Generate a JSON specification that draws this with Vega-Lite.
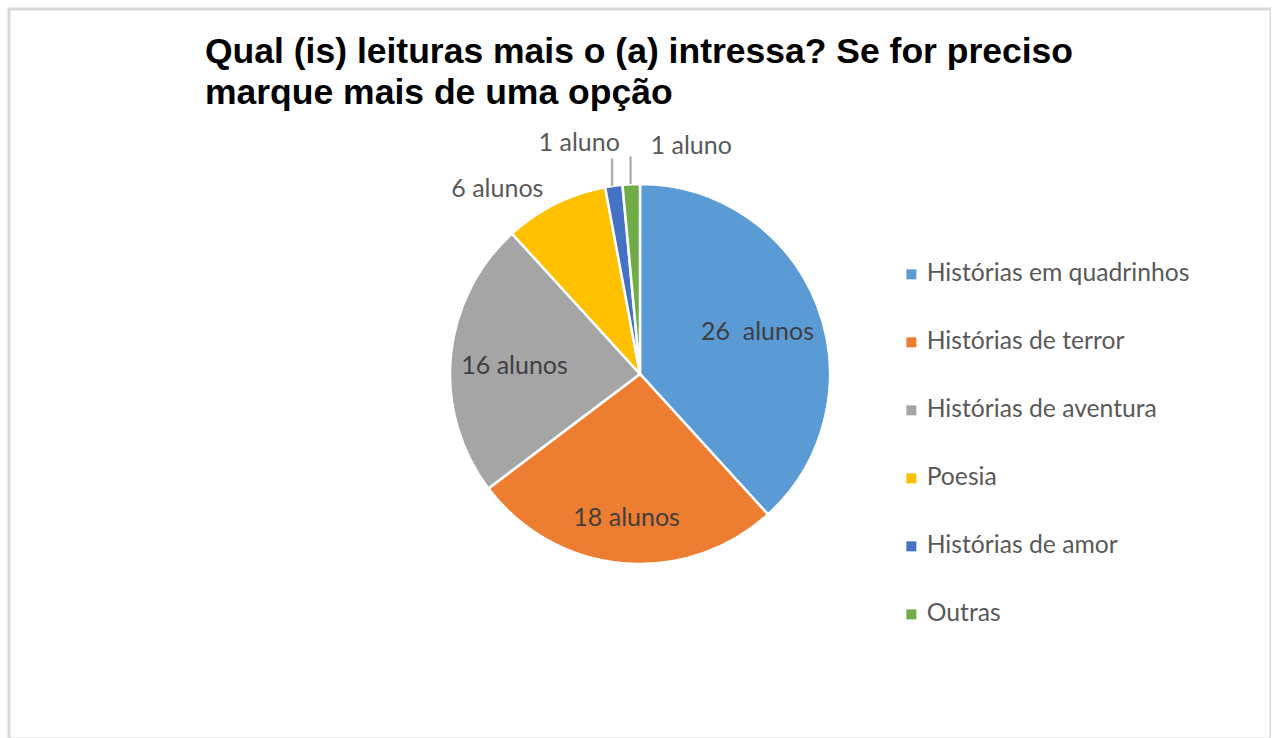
{
  "$schema": "https://vega.github.io/schema/vega-lite/v6.json",
  "autosize": {"type": "none"},
  "width": 1262,
  "height": 730,
  "padding": {"left": 9, "top": 9, "right": 0, "bottom": 0},
  "background": "white",
  "view": {"stroke": "#d9d9d9", "strokeWidth": 3, "fill": "white"},
  "config": {"view": {"stroke": "#d9d9d9", "strokeWidth": 3}},
  "title": {
    "text": ["Qual (is) leituras mais o (a) intressa? Se for preciso", "marque mais de uma opção"],
    "anchor": "start",
    "frame": "group",
    "font": "Liberation Sans",
    "fontSize": 35.5,
    "fontWeight": "bold",
    "color": "#000000",
    "baseline": "alphabetic",
    "lineHeight": 41,
    "offset": 0,
    "dx": 196,
    "dy": 130
  },
  "data": {
    "values": [
      {"categoria": "Histórias em quadrinhos", "alunos": 26, "ordem": 1, "rotulo": "26\u00a0 alunos"},
      {"categoria": "Histórias de terror", "alunos": 18, "ordem": 2, "rotulo": "18 alunos"},
      {"categoria": "Histórias de aventura", "alunos": 16, "ordem": 3, "rotulo": "16 alunos"},
      {"categoria": "Poesia", "alunos": 6, "ordem": 4, "rotulo": "6 alunos"},
      {"categoria": "Histórias de amor", "alunos": 1, "ordem": 5, "rotulo": "1 aluno"},
      {"categoria": "Outras", "alunos": 1, "ordem": 6, "rotulo": "1 aluno"}
    ]
  },
  "encoding": {
    "theta": {"field": "alunos", "type": "quantitative", "stack": true},
    "order": {"field": "ordem", "type": "quantitative"}
  },
  "layer": [
    {
      "mark": {"type": "arc", "outerRadius": 190, "stroke": "white", "strokeWidth": 2.5},
      "encoding": {
        "color": {
          "field": "categoria",
          "type": "nominal",
          "sort": ["Histórias em quadrinhos", "Histórias de terror", "Histórias de aventura", "Poesia", "Histórias de amor", "Outras"],
          "scale": {
            "domain": ["Histórias em quadrinhos", "Histórias de terror", "Histórias de aventura", "Poesia", "Histórias de amor", "Outras"],
            "range": ["#5B9BD5", "#ED7D31", "#A5A5A5", "#FFC000", "#4472C4", "#70AD47"]
          },
          "legend": {
            "title": null,
            "orient": "none",
            "legendX": 890,
            "legendY": 253,
            "symbolType": "square",
            "symbolSize": 100,
            "symbolStrokeWidth": 0,
            "labelFont": "Lato",
            "labelFontSize": 24.7,
            "labelColor": "#595959",
            "rowPadding": 42,
            "labelOffset": 3,
            "labelLimit": 400
          }
        }
      }
    },
    {
      "mark": {"type": "text", "radius": 126, "font": "Lato", "fontSize": 25, "color": "#404040", "align": "center", "baseline": "middle", "dy": 4},
      "encoding": {
        "text": {"condition": {"test": "datum.ordem == 1 || datum.ordem == 3", "field": "rotulo"}, "value": ""}
      }
    },
    {
      "mark": {"type": "text", "radius": 145, "font": "Lato", "fontSize": 25, "color": "#404040", "align": "center", "baseline": "middle"},
      "encoding": {
        "text": {"condition": {"test": "datum.ordem == 2", "field": "rotulo"}, "value": ""}
      }
    },
    {
      "mark": {"type": "text", "radius": 210, "font": "Lato", "fontSize": 25, "color": "#595959", "align": "right", "baseline": "middle", "dx": -3, "dy": 3},
      "encoding": {
        "text": {"condition": {"test": "datum.ordem == 4", "field": "rotulo"}, "value": ""}
      }
    },
    {
      "mark": {"type": "text", "radius": 225, "font": "Lato", "fontSize": 25, "color": "#595959", "align": "right", "baseline": "bottom", "dx": 11, "dy": 5},
      "encoding": {
        "text": {"condition": {"test": "datum.ordem == 5", "field": "rotulo"}, "value": ""}
      }
    },
    {
      "mark": {"type": "text", "radius": 225, "font": "Lato", "fontSize": 25, "color": "#595959", "align": "left", "baseline": "bottom", "dx": 21, "dy": 10},
      "encoding": {
        "text": {"condition": {"test": "datum.ordem == 6", "field": "rotulo"}, "value": ""}
      }
    },
    {
      "mark": {"type": "text", "radius": 203, "font": "Lato", "fontSize": 28, "color": "#a6a6a6", "align": "center", "baseline": "middle"},
      "encoding": {
        "text": {"condition": {"test": "datum.ordem >= 5", "value": "|"}, "value": ""}
      }
    }
  ]
}
